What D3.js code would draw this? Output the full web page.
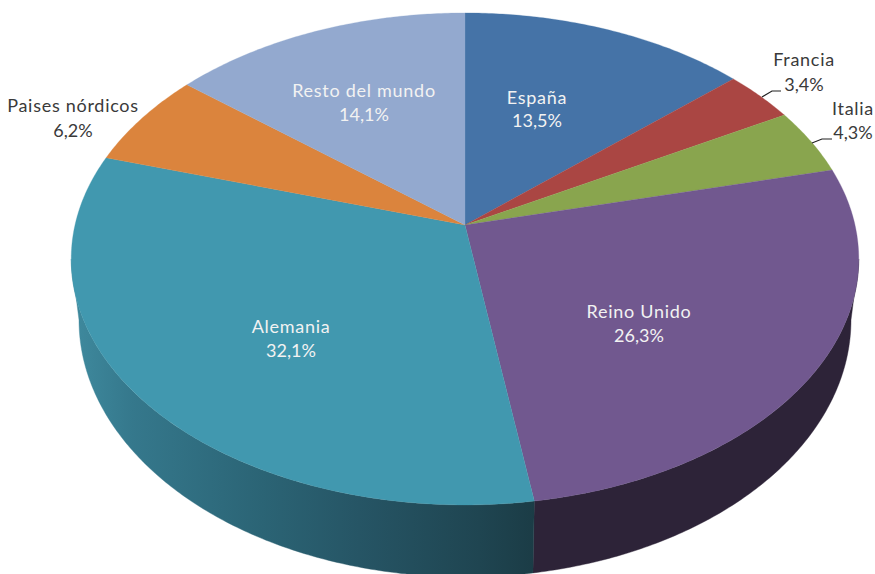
<!DOCTYPE html>
<html><head><meta charset="utf-8">
<script src="https://cdn.jsdelivr.net/npm/d3@7/dist/d3.min.js"></script>
<style>html,body{margin:0;padding:0;background:#fff}svg{display:block}</style>
</head><body><div id="c"></div>
<script>
const categories = ["España","Francia","Italia","Reino Unido","Alemania","Paises nórdicos","Resto del mundo"];
const values = [13.5,3.4,4.3,26.3,32.1,6.2,14.1];
const valueLabels = ["13,5%","3,4%","4,3%","26,3%","32,1%","6,2%","14,1%"];
const colors = ["#4573a7","#aa4643","#89a54e","#71588f","#4198af","#db843d","#93a9cf"];

// layout
const W = 875, H = 574;
const cx = 465, k = 0.138;
const topPlane = {y0:225, A:390, B:241.3};
const lowPlane = {y0:284.6, A:382.3, B:252};
const labelAt = [[537,104,127,"#f2f2f2"],[804,66,91,"#3a3a3a"],[853,115,139,"#3a3a3a"],[639,318,342,"#f2f2f2"],[291,333,357,"#f2f2f2"],[73,112,137,"#3a3a3a"],[364,97,121,"#f2f2f2"]];
const leaders = {1:[[762,97],[772,91],[781,91]], 2:[[812,143],[822,139],[832,139]]};

const project = (p, t) => {
  const u = Math.sin(t), v = Math.cos(t), w = 1 + k*v;
  return [cx + p.A*u/w, p.y0 - p.B*v/w];
};
const arcPts = (p,a,b) => {
  const n = Math.max(2, Math.ceil(Math.abs(b-a)/0.01));
  return d3.range(n+1).map(i => project(p, a+(b-a)*i/n));
};
const line = d3.line();

const svg = d3.select("#c").append("svg").attr("width",W).attr("height",H).attr("viewBox",`0 0 ${W} ${H}`);

const grad = svg.append("defs").append("linearGradient").attr("id","sideA")
  .attr("gradientUnits","userSpaceOnUse").attr("x1",72).attr("x2",535).attr("y1",0).attr("y2",0);
[[0,"#3f8a9e"],[0.13,"#35788c"],[0.41,"#2b6475"],[0.62,"#265565"],[0.88,"#1f4551"],[1,"#1b3c46"]]
  .forEach(s=>grad.append("stop").attr("offset",s[0]).attr("stop-color",s[1]));

const pie = d3.pie().sort(null).value(d=>d).startAngle(0).endAngle(2*Math.PI);
const arcs = pie(values);

// silhouette angles where the ellipses reach their widest points
const sil = Math.acos(-k);
const sideFill = {3:"#2d2338", 4:"url(#sideA)"};
const g = svg.append("g");
arcs.forEach((d,i)=>{
  if(!(i in sideFill)) return;
  const a = i===3 ? sil : d.startAngle;
  const b = i===4 ? 2*Math.PI - sil : d.endAngle;
  const pts = arcPts(topPlane,a,b).concat(arcPts(lowPlane,b,a));
  g.append("path").attr("d",line(pts)+"Z").attr("fill",sideFill[i]).attr("stroke",sideFill[i]).attr("stroke-width",0.4);
});

g.selectAll("path.slice").data(arcs).enter().append("path").attr("class","slice")
  .attr("d",d=>line([[cx,topPlane.y0]].concat(arcPts(topPlane,d.startAngle,d.endAngle)))+"Z")
  .attr("fill",(d,i)=>colors[i]).attr("stroke",(d,i)=>colors[i]).attr("stroke-width",0.3);

Object.keys(leaders).forEach(i=>{
  svg.append("path").attr("d",line(leaders[i])).attr("fill","none").attr("stroke","#222").attr("stroke-width",1.2);
});

const lab = svg.append("g").attr("font-family","Lato, 'Noto Sans', sans-serif").attr("font-size",18).attr("text-anchor","middle");
categories.forEach((c,i)=>{
  const [x,y1,y2,col] = labelAt[i];
  lab.append("text").attr("x",x).attr("y",y1).attr("fill",col).attr("letter-spacing",0.72).text(c);
  lab.append("text").attr("x",x).attr("y",y2).attr("fill",col).text(valueLabels[i]);
});
</script></body></html>
